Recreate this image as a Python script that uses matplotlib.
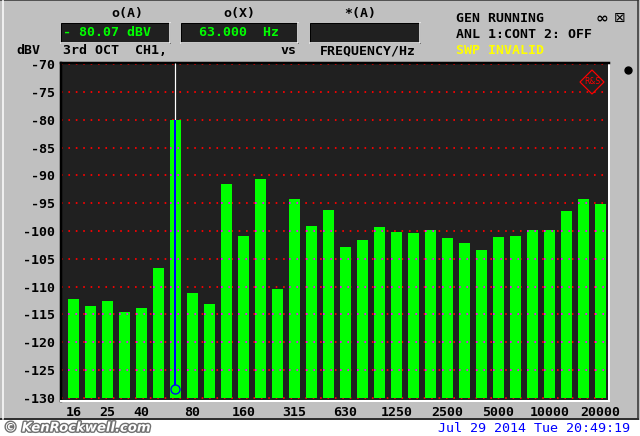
import matplotlib
matplotlib.use('Agg')
import matplotlib.pyplot as plt
from matplotlib.patches import Rectangle, Polygon
from matplotlib.lines import Line2D
import matplotlib.patheffects as pe
import numpy as np

plt.rcParams['axes.unicode_minus'] = False
plt.rcParams['font.family'] = ['DejaVu Sans Mono', 'DejaVu Sans']

# ===== 데이터 (1/3 옥타브 밴드) =====
bands = ['16', '20', '25', '31.5', '40', '50', '63', '80', '100', '125', '160',
         '200', '250', '315', '400', '500', '630', '800', '1000', '1250', '1600',
         '2000', '2500', '3150', '4000', '5000', '6300', '8000', '10000',
         '12500', '16000', '20000']
levels_dbv = [-112.2, -113.5, -112.6, -114.6, -113.9, -106.7, -80.07, -111.2,
              -113.2, -91.6, -100.9, -90.7, -110.4, -94.3, -99.1, -96.2,
              -102.9, -101.6, -99.3, -100.2, -100.4, -99.8, -101.3, -102.2,
              -103.4, -101.0, -100.9, -99.8, -99.8, -96.4, -94.3, -95.2]
shown_ticks = ['16', '25', '40', '80', '160', '315', '630', '1250', '2500',
               '5000', '10000', '20000']
y_ticks = list(range(-70, -131, -5))
cursor_band = '63'
cursor_circle = -128.5

# ===== 색상 =====
BG = '#c0c0c0'
PLOT_BG = '#202020'
GREEN = '#00ff00'
RED = '#ff0000'
MAGENTA = '#ff00ff'
BLUE = '#0000ff'
YELLOW = '#ffff00'

W, H = 640, 436
PX = 0.72  # 1 px in points at dpi 100


def fx(x):
    return x / W


def fy(y):
    return 1 - y / H


fig = plt.figure(figsize=(6.4, 4.36), dpi=100, facecolor=BG)

# 아래 흰 띠 + 테두리
fig.add_artist(Rectangle((0, 0), 1, fy(420), transform=fig.transFigure,
                         facecolor='white', edgecolor='none'))
fig.add_artist(Line2D([0, fx(638)], [fy(419), fy(419)], transform=fig.transFigure,
                      color='#303030', lw=2 * PX))
fig.add_artist(Line2D([fx(637.5), fx(637.5)], [fy(419), 1], transform=fig.transFigure,
                      color='#303030', lw=1.5 * PX))
fig.add_artist(Line2D([0, fx(638)], [fy(0.5), fy(0.5)], transform=fig.transFigure,
                      color='#303030', lw=1.5 * PX))
fig.add_artist(Line2D([fx(2.5), fx(2.5)], [fy(419), 1], transform=fig.transFigure,
                      color='white', lw=1.5 * PX))

# ===== 메인 그래프 =====
ax = fig.add_axes([fx(61), fy(400.5), (609 - 61) / W, (400.5 - 63) / H])
ax.set_facecolor(PLOT_BG)

x = np.arange(len(bands))
bar_w = 0.65
ax.bar(x, np.array(levels_dbv) + 130, bottom=-130, width=bar_w,
       color=GREEN, linewidth=0, zorder=2)

# 격자선 (막대 위에서는 자홍색)
for lvl in y_ticks:
    ax.axhline(lvl, color=RED, lw=1.3, linestyle=(0, (0.9, 3.2)), zorder=1)
    for xi, top in zip(x, levels_dbv):
        if top > lvl and lvl > -130:
            ax.hlines(lvl, xi - bar_w / 2, xi + bar_w / 2, color=MAGENTA,
                      lw=1.3, linestyle=(0, (0.9, 3.2)), zorder=3)

# 커서
ci = bands.index(cursor_band)
ctop = levels_dbv[ci]
ax.vlines(ci, ctop, -69.7, color='white', lw=1.2 * PX, zorder=4)
ax.vlines(ci, cursor_circle + 0.8, ctop, color=BLUE, lw=2 * PX, zorder=4)
ax.plot([ci], [cursor_circle], marker='o', ms=6.5, mfc='none', mec=BLUE,
        mew=1.3 * PX, zorder=5)

ax.set_xlim(-0.735, 31.5)
ax.set_ylim(-130.5, -69.75)
ax.set_yticks(y_ticks)
ax.set_yticklabels([str(v) for v in y_ticks], fontsize=9.5, fontweight='bold')
ax.set_xticks([bands.index(t) for t in shown_ticks])
ax.set_xticklabels(shown_ticks, fontsize=9.5, fontweight='bold')
ax.tick_params(length=0, pad=4.3, colors='black')

for side in ['left', 'top']:
    ax.spines[side].set_color('black')
    ax.spines[side].set_linewidth(2.5 * PX)
for side in ['right', 'bottom']:
    ax.spines[side].set_color('white')
    ax.spines[side].set_linewidth(2 * PX)

# R&S 로고
cx, cy, r = 592, 82, 12
fig.add_artist(Polygon([(fx(cx), fy(cy - r)), (fx(cx + r), fy(cy)),
                        (fx(cx), fy(cy + r)), (fx(cx - r), fy(cy))],
                       closed=True, transform=fig.transFigure,
                       facecolor='none', edgecolor=RED, lw=1.2 * PX))
fig.text(fx(cx), fy(cy), 'R&S', color=RED, fontsize=5.5, ha='center', va='center',
         family='DejaVu Sans')
# 오른쪽 노브 아이콘
fig.add_artist(Line2D([fx(628)], [fy(70)], transform=fig.transFigure, marker='o',
                      ms=5, mfc='black', mec='black'))

# ===== 상단 헤더 =====
txt = dict(fontsize=9.5, fontweight='bold', va='center')
fig.text(fx(127), fy(13), 'o(A)', ha='center', **txt)
fig.text(fx(239), fy(13), 'o(X)', ha='center', **txt)
fig.text(fx(360), fy(13), '*(A)', ha='center', **txt)

for x0, x1 in [(61, 170), (181, 298), (310, 420)]:
    fig.add_artist(Rectangle((fx(x0), fy(43)), (x1 - x0) / W, 20 / H,
                             transform=fig.transFigure, facecolor=PLOT_BG,
                             edgecolor='black', lw=1 * PX))
    fig.add_artist(Line2D([fx(x0), fx(x1), fx(x1)], [fy(43), fy(43), fy(23)],
                          transform=fig.transFigure, color='white', lw=1.5 * PX))

fig.text(fx(63), fy(33), '- 80.07 dBV', color=GREEN, ha='left', **txt)
fig.text(fx(199), fy(33), '63.000  Hz', color=GREEN, ha='left', **txt)

fig.text(fx(16), fy(51), 'dBV', ha='left', **txt)
fig.text(fx(63), fy(51), '3rd OCT  CH1,', ha='left', **txt)
fig.text(fx(280), fy(51), 'vs', ha='left', **txt)
fig.text(fx(320), fy(51), 'FREQUENCY/Hz', ha='left', **txt)

fig.text(fx(456), fy(18), 'GEN RUNNING', ha='left', **txt)
fig.text(fx(456), fy(34), 'ANL 1:CONT 2: OFF', ha='left', **txt)
fig.text(fx(456), fy(50), 'SWP INVALID', ha='left', color=YELLOW, **txt)

fig.text(fx(602), fy(18), '∞', ha='center', fontsize=11, fontweight='bold',
         va='center', family='DejaVu Sans')
fig.text(fx(620), fy(18), '⊠', ha='center', fontsize=10, va='center',
         family='DejaVu Sans')

# ===== 하단 =====
fig.text(fx(630), fy(428.5), 'Jul 29 2014 Tue 20:49:19', color=BLUE, ha='right',
         va='center', fontsize=9.6)
fig.text(fx(4), fy(428), '© KenRockwell.com', color='white', ha='left', va='center',
         fontsize=9.5, fontweight='bold', style='italic', family='DejaVu Sans',
         path_effects=[pe.withStroke(linewidth=2, foreground='#707070')])

fig.savefig('out.png', dpi=100, facecolor=BG)
